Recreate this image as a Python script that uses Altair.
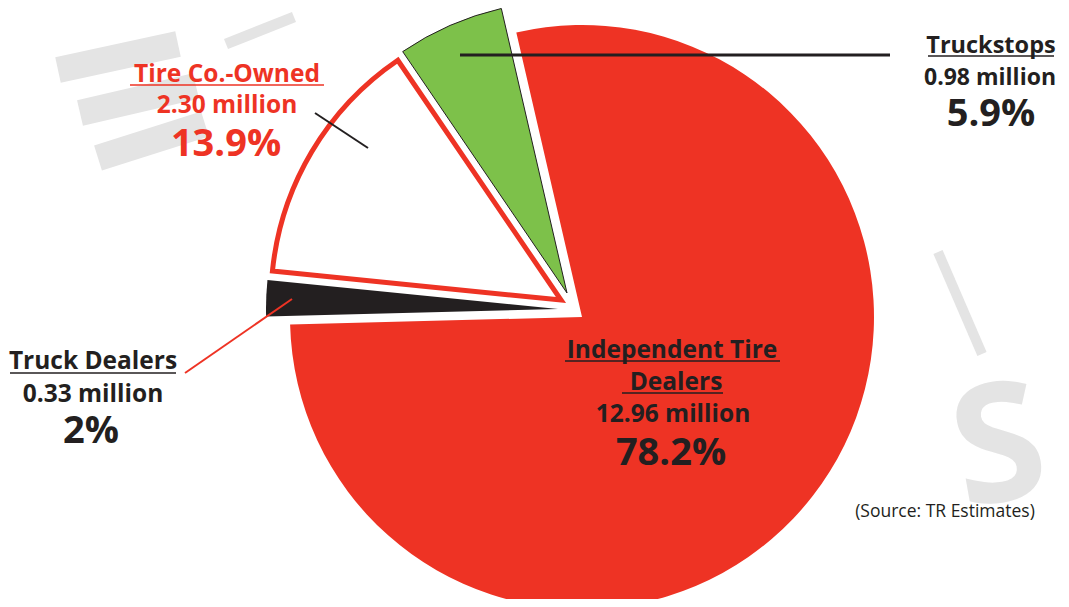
import math
import altair as alt
import pandas as pd

# ---- data ----
categories = ["Independent Tire Dealers", "Truck Dealers", "Tire Co.-Owned", "Truckstops"]
shares = [78.2, 2.0, 13.9, 5.9]
millions = [12.96, 0.33, 2.30, 0.98]
share_labels = ["78.2%", "2%", "13.9%", "5.9%"]
slice_order = [0, 1, 2, 3]
source_note = "(Source: TR Estimates)"

RED = "#EE3324"
GREEN = "#7DC14A"
DARK = "#231F20"
WM = "#E4E4E4"
FONT = "Open Sans"

df = pd.DataFrame({"cat": categories, "share": shares, "millions": millions, "order": slice_order})
one = pd.DataFrame({"k": [0]})

M = 8


def px(v):
    return v - M


start_deg = -13
r0 = math.radians(start_deg)
theta_scale = alt.Scale(domain=[0, 100], range=[r0, r0 + 2 * math.pi])

base = (
    alt.Chart(df)
    .transform_window(end="sum(share)", sort=[alt.SortField("order")], frame=[None, 0])
    .transform_calculate(start="datum.end - datum.share")
)


def slice_layer(name, cx, cy, fill, stroke=None, sw=0, radius=292):
    kw = dict(outerRadius=radius, fill=fill)
    if stroke:
        kw.update(stroke=stroke, strokeWidth=sw, strokeJoin="miter")
    return base.transform_filter(alt.datum.cat == name).mark_arc(**kw).encode(
        theta=alt.Theta("start:Q", scale=theta_scale, stack=None),
        theta2="end:Q",
        x=alt.value(px(cx)),
        y=alt.value(px(cy)),
    )


def txt(s, x, y, size, color=DARK, weight="bold", align="center", angle=0, font=FONT):
    return alt.Chart(one).mark_text(
        text=s, fontSize=size, fontWeight=weight, color=color, align=align,
        baseline="alphabetic", font=font, angle=angle,
    ).encode(x=alt.value(px(x)), y=alt.value(px(y)))


def rule(x1, y1, x2, y2, color=DARK, sw=1.5, cap="butt"):
    return alt.Chart(one).mark_rule(color=color, strokeWidth=sw, strokeCap=cap).encode(
        x=alt.value(px(x1)), y=alt.value(px(y1)), x2=alt.value(px(x2)), y2=alt.value(px(y2))
    )


layers = []
# watermark
layers += [
    rule(58, 70, 178, 44, WM, 26),
    rule(80, 113, 196, 86, WM, 26),
    rule(98, 158, 205, 124, WM, 26),
    rule(226, 44, 294, 17, WM, 11),
    rule(938, 252, 982, 354, WM, 10),
    txt("S", 1008, 500, 165, WM, "bold", angle=350),
]

# slices
layers += [
    slice_layer("Independent Tire Dealers", 582, 317, RED),
    slice_layer("Truck Dealers", 558, 309, DARK),
    slice_layer("Tire Co.-Owned", 561, 300, "white", RED, 5, 290),
    slice_layer("Truckstops", 567, 293, GREEN, DARK, 1, 292),
]

# leader lines
layers += [
    rule(460, 55, 890, 55, DARK, 3),
    rule(315, 113, 368, 148, DARK, 2),
    rule(185, 373, 292, 299, RED, 2),
]


def mil(v):
    return f"{v:.2f} million"


NS = 24.5   # name size
MS = 24.5   # million size
PS = 38     # percent size

layers += [
    # Truckstops (kept inside the right edge)
    txt(categories[3], 991, 53, 23.5),
    rule(928, 56, 1054, 56, DARK, 1.5),
    txt(mil(millions[3]), 990, 85, 23),
    txt(share_labels[3], 991, 126, PS),
    # Tire Co.-Owned
    txt(categories[2], 227, 82, NS, RED),
    rule(130, 85, 324, 85, RED, 1.5),
    txt(mil(millions[2]), 227, 113, MS, RED),
    txt(share_labels[2], 226, 156, PS, RED),
    # Truck Dealers
    txt(categories[1], 93, 369, NS),
    rule(10, 373, 176, 373, DARK, 1.5),
    txt(mil(millions[1]), 93, 402, MS),
    txt(share_labels[1], 91, 443, PS),
    # Independent Tire Dealers
    txt("Independent Tire", 672, 358, NS),
    rule(565, 361, 780, 361, DARK, 1.5),
    txt("Dealers", 676, 390, NS),
    rule(622, 393, 723, 393, DARK, 1.5),
    txt(mil(millions[0]), 673, 422, MS),
    txt(share_labels[0], 671, 465, PS),
    # source
    txt(source_note, 945, 517, 17.5, DARK, "normal"),
]

chart = alt.layer(*layers).properties(
    width=1053, height=591, padding=0, autosize="none", background="white"
).configure_view(stroke=None)

chart.save("out.html", embed_options={"renderer": "svg", "actions": False})
